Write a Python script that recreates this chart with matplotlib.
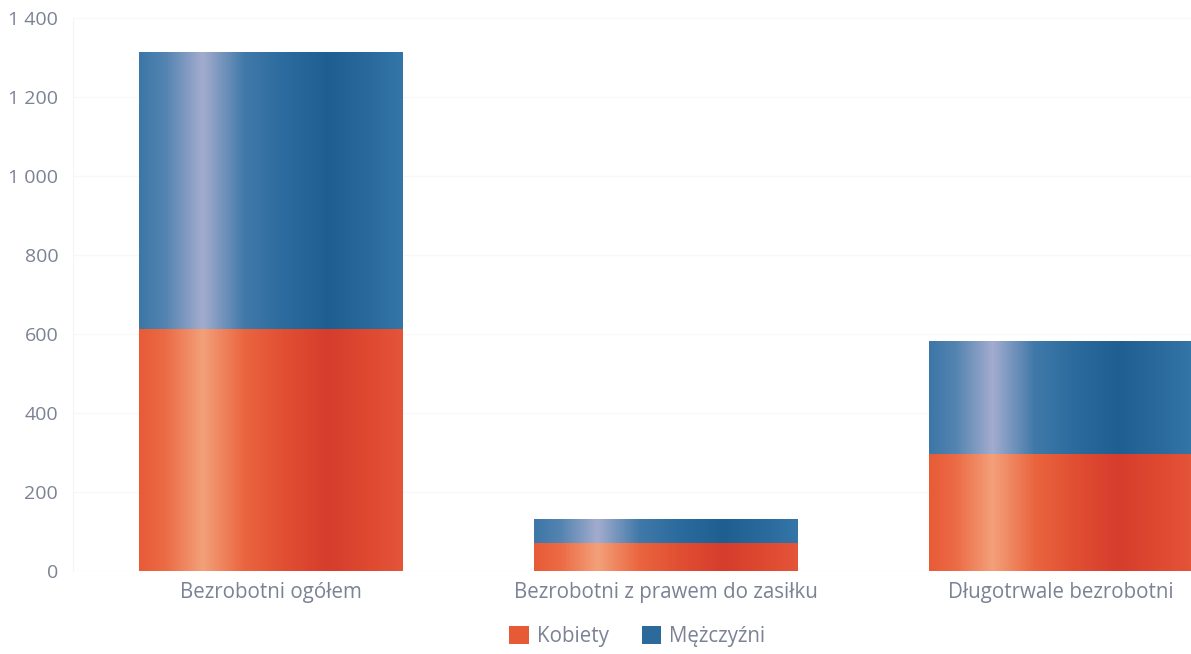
import numpy as np
import matplotlib
matplotlib.use("Agg")
from matplotlib import pyplot as plt
from matplotlib.colors import LinearSegmentedColormap
from matplotlib.patches import Patch

# Dane (tys. osób)
categories = ["Bezrobotni ogółem", "Bezrobotni z prawem do zasiłku", "Długotrwale bezrobotni"]
kobiety = [613, 71, 296]
mezczyzni = [701, 61, 286]
series_names = ["Kobiety", "Mężczyźni"]
yticks = [0, 200, 400, 600, 800, 1000, 1200, 1400]

# "metaliczne" gradienty poziome w słupkach
red_cmap = LinearSegmentedColormap.from_list("red", [
    (0.0, "#e85b37"), (0.1, "#eb6b45"), (0.24, "#f3a07a"), (0.4, "#ea653f"),
    (0.55, "#e14f33"), (0.72, "#d63d2c"), (0.88, "#df4a31"), (1.0, "#e4553a")])
blue_cmap = LinearSegmentedColormap.from_list("blue", [
    (0.0, "#3c77a7"), (0.1, "#5484b1"), (0.24, "#a3acce"), (0.4, "#4079a9"),
    (0.55, "#2c6b9e"), (0.72, "#1f5e90"), (0.88, "#2a6a9c"), (1.0, "#3576a8")])
base_colors = ["#e65a36", "#2c6a9c"]

plt.rcParams['font.family'] = ['Open Sans', 'DejaVu Sans']
fig = plt.figure(figsize=(11.91, 6.54), dpi=100)
ax = fig.add_axes([0.0617, 0.127, 0.995, 0.8455])

x = np.arange(len(categories))
width = 0.666
bars_k = ax.bar(x, kobiety, width, color="none", label=series_names[0])
bars_m = ax.bar(x, mezczyzni, width, bottom=kobiety, color="none", label=series_names[1])

grad = np.linspace(0, 1, 256).reshape(1, -1)
for bars, cmap in [(bars_k, red_cmap), (bars_m, blue_cmap)]:
    for rect in bars:
        x0, y0 = rect.get_x(), rect.get_y()
        w, h = rect.get_width(), rect.get_height()
        im = ax.imshow(grad, cmap=cmap, aspect="auto", extent=[x0, x0 + w, y0, y0 + h],
                       zorder=2, interpolation="bicubic")
        im.set_clip_path(rect)

ax.set_xlim(-0.5, len(categories) - 0.5)
ax.set_ylim(0, 1400)
ax.set_yticks(yticks)
ax.set_yticklabels([f"{v:,}".replace(",", " ") for v in yticks])
ax.set_xticks(x)
ax.set_xticklabels(categories)

ax.tick_params(axis="both", length=0, labelsize=14, colors="#7b8294")
ax.tick_params(axis="x", labelsize=14.8, pad=8)
ax.tick_params(axis="y", pad=11)
ax.grid(axis="y", color="#f8f8fa", linewidth=1)
ax.set_axisbelow(True)
for side in ["top", "right", "bottom"]:
    ax.spines[side].set_visible(False)
ax.spines["left"].set_color("#f5f5f7")

handles = [Patch(facecolor=c, label=n) for c, n in zip(base_colors, series_names)]
fig.legend(handles=handles, loc="center", bbox_to_anchor=(0.535, 0.027), ncol=2,
           frameon=False, fontsize=14.8, labelcolor="#7b8294", handlelength=0.95,
           handleheight=0.95, handletextpad=0.4, columnspacing=1.6)

fig.savefig("out.png", dpi=100)
